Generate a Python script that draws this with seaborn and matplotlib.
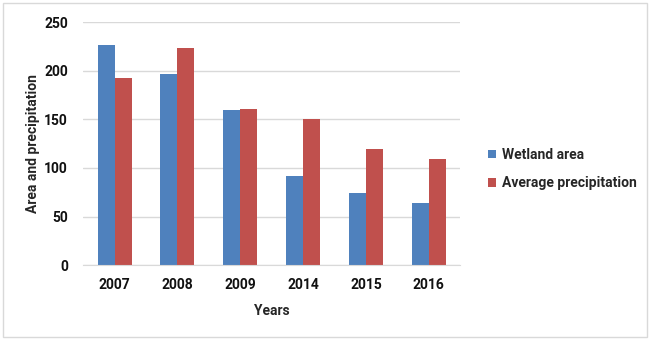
import matplotlib
matplotlib.use("Agg")
import matplotlib.pyplot as plt
import seaborn as sns
import pandas as pd
from matplotlib.patches import Rectangle

years = ["2007", "2008", "2009", "2014", "2015", "2016"]
wetland_area = [226, 197, 160, 92, 74, 64]
avg_precip = [193, 223, 161, 150, 119, 109]
series_names = ["Wetland area", "Average precipitation"]
colors = ["#4F81BD", "#C0504D"]

df = pd.DataFrame({
    "Years": years * 2,
    "Value": wetland_area + avg_precip,
    "Series": [series_names[0]] * len(years) + [series_names[1]] * len(years),
})

sns.set_style("white")
plt.rcParams["font.family"] = ["Roboto", "DejaVu Sans"]
plt.rcParams["font.weight"] = "bold"

fig = plt.figure(figsize=(6.5, 3.4), dpi=100)
ax = fig.add_axes([0.128, 0.22, 0.58, 0.715])

sns.barplot(data=df, x="Years", y="Value", hue="Series", palette=colors,
            width=0.54, gap=0, saturation=1, linewidth=0, ax=ax)

ax.set_ylim(0, 250)
ax.set_xlim(-0.5, 5.5)
ax.set_yticks(range(0, 251, 50))
ax.yaxis.grid(True, color="#D9D9D9", linewidth=1)
ax.set_axisbelow(True)
for s in ["top", "right", "left"]:
    ax.spines[s].set_visible(False)
ax.spines["bottom"].set_color("#D9D9D9")
ax.tick_params(axis="both", length=0, labelsize=10, colors="#111111")
ax.tick_params(axis="x", pad=9)
ax.tick_params(axis="y", pad=11)
for lab in ax.get_xticklabels() + ax.get_yticklabels():
    lab.set_fontweight("bold")
ax.set_xlabel("Years", fontsize=10, fontweight="bold", labelpad=9)
ax.set_ylabel("Area and precipitation", fontsize=10, fontweight="bold", labelpad=3)

ax.legend(loc="center left", bbox_to_anchor=(1.04, 0.395), frameon=False,
          prop={"size": 10, "weight": "bold"}, handlelength=0.6, handleheight=0.6,
          labelspacing=1.05, handletextpad=0.4)

fig.patches.append(Rectangle((0.005, 0.008), 0.99, 0.984, transform=fig.transFigure,
                             fill=False, edgecolor="#D9D9D9", linewidth=1))

fig.savefig("out.png", dpi=100)
